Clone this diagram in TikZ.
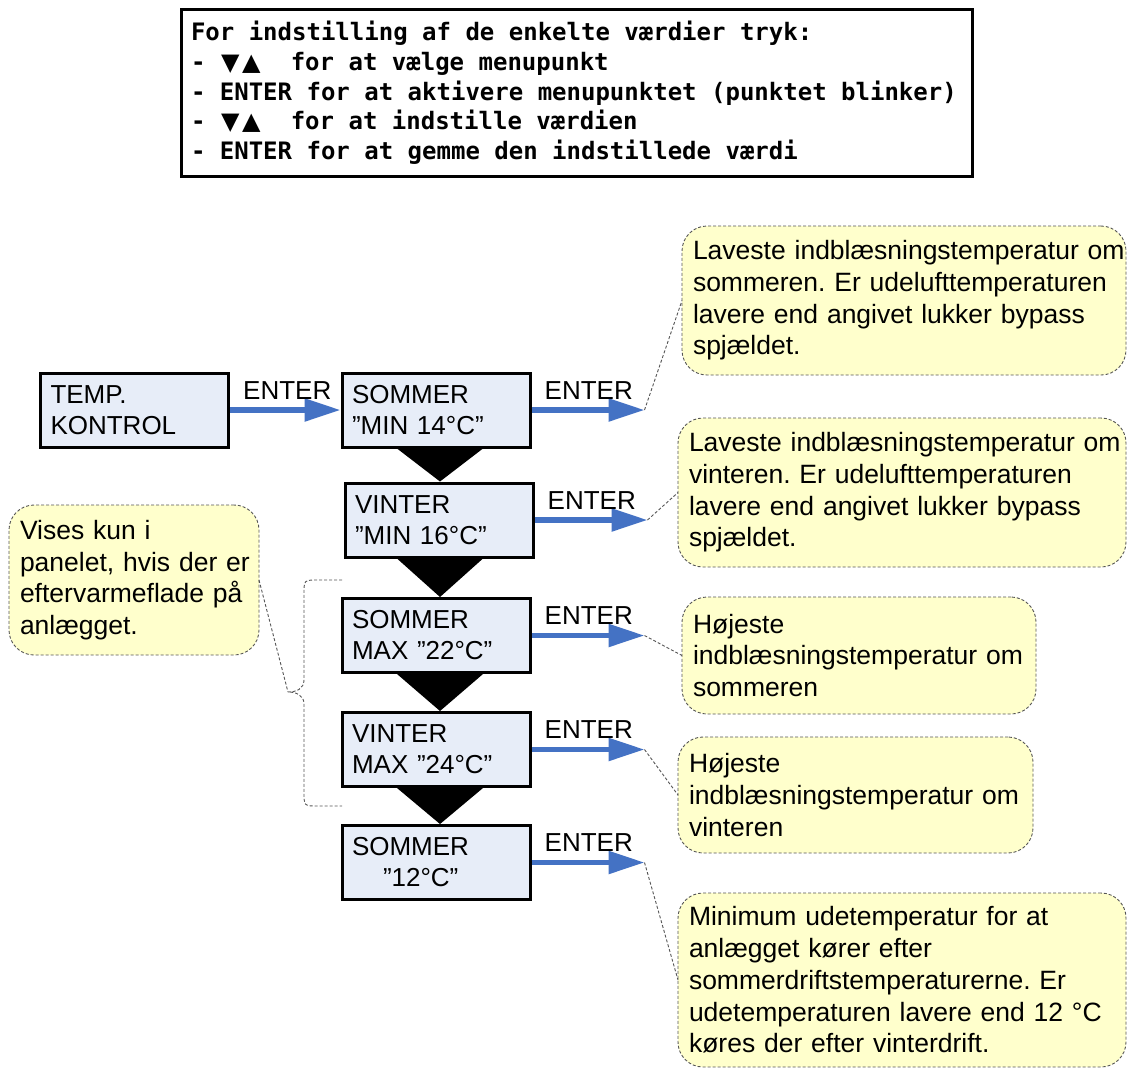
\documentclass[tikz,border=0pt]{standalone}
\usepackage{fontspec}
\setmainfont{Liberation Sans}
\newfontfamily\monofont{DejaVu Sans Mono}
\newfontfamily\trifont{DejaVu Sans}
\usetikzlibrary{arrows.meta}
\definecolor{boxblue}{RGB}{231,237,248}
\definecolor{arrowblue}{RGB}{68,114,196}
\definecolor{callyellow}{RGB}{255,255,204}
\definecolor{dashgray}{RGB}{85,85,85}
\newcommand{\monosp}{\spaceskip=\fontcharwd\font`M\relax\xspaceskip=\spaceskip}
\frenchspacing
\begin{document}
\frenchspacing
\begin{tikzpicture}[x=1pt,y=-1pt,
  menubox/.style={draw=black,line width=3pt,fill=boxblue,minimum width=188pt,minimum height=74pt,text width=168pt,inner xsep=10pt,inner ysep=0pt,align=left,font=\fontsize{26}{31}\selectfont},
  callout/.style={draw=dashgray,line width=0.9pt,dash pattern=on 3pt off 2pt,fill=callyellow,rounded corners=25pt,inner xsep=11pt,inner ysep=0pt,outer sep=0pt,align=left,anchor=north west,font=\fontsize{26.5}{31.7}\selectfont\frenchspacing},
  enterlbl/.style={anchor=base west,inner sep=0pt,font=\fontsize{26}{31}\selectfont},
  bluearrow/.style={draw=arrowblue,line width=5.5pt,-{Triangle[length=36pt,width=22pt]}},
  pointer/.style={draw=dashgray,line width=0.9pt,dash pattern=on 3pt off 2pt},
  downtri/.style={fill=black}
]
\useasboundingbox (0,0) rectangle (1127,1069);

% instruction box
\node[draw=black,line width=3pt,anchor=north west,minimum width=791pt,minimum height=167pt,text width=772pt,inner xsep=9.5pt,inner ysep=0pt,align=left,font=\fontsize{24}{29.7}\selectfont\monofont\bfseries] (info) at (180,8)
{\monosp\mbox{For indstilling af de enkelte værdier tryk:}\\
\mbox{\monosp- {\trifont\makebox[21pt]{▼}\makebox[21pt]{▲}}\ \ for at vælge menupunkt}\\
\mbox{\monosp- ENTER for at aktivere menupunktet (punktet blinker)}\\
\mbox{\monosp- {\trifont\makebox[21pt]{▼}\makebox[21pt]{▲}}\ \ for at indstille værdien}\\
\mbox{\monosp- ENTER for at gemme den indstillede værdi}};

% menu boxes
\node[menubox] (temp) at (134.5,410) {TEMP.\\KONTROL};
\node[menubox] (s1) at (436,410) {SOMMER\\”MIN 14°C”};
\node[menubox] (v1) at (439,520) {VINTER\\”MIN 16°C”};
\node[menubox] (s2) at (436,635.5) {SOMMER\\MAX ”22°C”};
\node[menubox] (v2) at (436,749.5) {VINTER\\MAX ”24°C”};
\node[menubox] (s3) at (436,862.5) {SOMMER\\\hspace*{31pt}”12°C”};

% down triangles
\coordinate (cx) at (440,0);
\fill[downtri] (cx |- s1.south) ++(-43,0) -- ++(86,0) -- (cx |- v1.north) -- cycle;
\fill[downtri] (cx |- v1.south) ++(-43,0) -- ++(86,0) -- (cx |- s2.north) -- cycle;
\fill[downtri] (cx |- s2.south) ++(-43,0) -- ++(86,0) -- (cx |- v2.north) -- cycle;
\fill[downtri] (cx |- v2.south) ++(-43,0) -- ++(86,0) -- (cx |- s3.north) -- cycle;

% arrow tips
\coordinate (t1) at ([xshift=113pt]s1.east);
\coordinate (t2) at ([xshift=113pt]v1.east);
\coordinate (t3) at ([xshift=113pt]s2.east);
\coordinate (t4) at ([xshift=113pt]v2.east);
\coordinate (t5) at ([xshift=113pt]s3.east);

% blue arrows
\draw[bluearrow] (temp.east) -- (s1.west);
\draw[bluearrow] (s1.east) -- (t1);
\draw[bluearrow] (v1.east) -- (t2);
\draw[bluearrow] (s2.east) -- (t3);
\draw[bluearrow] (v2.east) -- (t4);
\draw[bluearrow] (s3.east) -- (t5);

% ENTER labels
\node[enterlbl] (e0) at ([xshift=13pt,yshift=11pt]temp.east) {ENTER};
\node[enterlbl] (e1) at ([xshift=13pt,yshift=11pt]s1.east) {ENTER};
\node[enterlbl] (e2) at ([xshift=13pt,yshift=11pt]v1.east) {ENTER};
\node[enterlbl] (e3) at ([xshift=13pt,yshift=11pt]s2.east) {ENTER};
\node[enterlbl] (e4) at ([xshift=13pt,yshift=11pt]v2.east) {ENTER};
\node[enterlbl] (e5) at ([xshift=13pt,yshift=11pt]s3.east) {ENTER};

% callouts
\node[callout,minimum width=444pt,minimum height=149pt,text width=422pt] (c1) at (682,226)
{\mbox{Laveste indblæsningstemperatur om}\\\mbox{sommeren. Er udelufttemperaturen}\\\mbox{lavere end angivet lukker bypass}\\\mbox{spjældet.}};
\node[callout,minimum width=448pt,minimum height=149pt,text width=426pt] (c2) at (678,418)
{\mbox{Laveste indblæsningstemperatur om}\\\mbox{vinteren. Er udelufttemperaturen}\\\mbox{lavere end angivet lukker bypass}\\\mbox{spjældet.}};
\node[callout,minimum width=354pt,minimum height=117pt,text width=332pt] (c3) at (682,597)
{\mbox{Højeste}\\\mbox{indblæsningstemperatur om}\\\mbox{sommeren}};
\node[callout,minimum width=355pt,minimum height=116pt,text width=333pt] (c4) at (678,737)
{\mbox{Højeste}\\\mbox{indblæsningstemperatur om}\\\mbox{vinteren}};
\node[callout,minimum width=448pt,minimum height=174pt,text width=426pt] (c5) at (678,893)
{\mbox{Minimum udetemperatur for at}\\\mbox{anlægget kører efter}\\\mbox{sommerdriftstemperaturerne. Er}\\\mbox{udetemperaturen lavere end 12 °C}\\\mbox{køres der efter vinterdrift.}};
\node[callout,minimum width=250pt,minimum height=150pt,text width=228pt] (lc) at (9,505)
{\mbox{Vises kun i}\\\mbox{panelet, hvis der er}\\\mbox{eftervarmeflade på}\\\mbox{anlægget.}};

% pointers
\draw[pointer] (t1) -- (c1.west);
\draw[pointer] (t2) -- (c2.west);
\draw[pointer] (t3) -- (c3.west);
\draw[pointer] (t4) -- (c4.west);
\draw[pointer] (t5) -- (c5.west);

% brace
\coordinate (bt) at (288,692);
\draw[pointer] (342,580) -- (318,580) .. controls (304,580) and (304,580) .. (304,594) -- (304,680)
  .. controls (304,689) and (296,692) .. (bt) .. controls (296,692) and (304,695) .. (304,704)
  -- (304,792) .. controls (304,806) and (304,806) .. (318,806) -- (342,806);
\draw[pointer] (lc.east) -- (bt);
\end{tikzpicture}
\end{document}
